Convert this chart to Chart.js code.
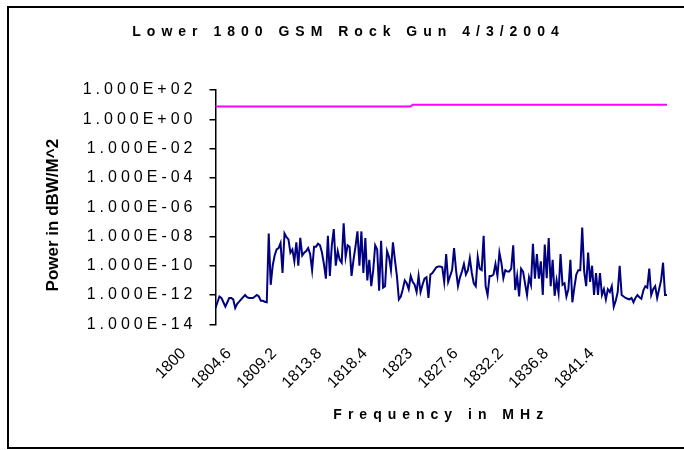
<!DOCTYPE html>
<html>
<head>
<meta charset="utf-8">
<script src="https://cdn.jsdelivr.net/npm/chart.js@4.4.1/dist/chart.umd.min.js"></script>
<style>
  html, body { margin: 0; padding: 0; background: #fff; }
  #wrap { width: 684px; height: 450px; }
</style>
</head>
<body>
<div id="wrap"><canvas id="chart"></canvas></div>
<script>
// frequency categories, 0.2 MHz steps
var frequencies = []
for (var i = 0; i < 230; i++) frequencies.push(String(+(1800 + i * 0.2).toFixed(1)))

var xTickLabels = ['1800', '1804.6', '1809.2', '1813.8', '1818.4', '1823', '1827.6', '1832.2', '1836.8', '1841.4']
var yTicks = [1e2, 1e0, 1e-2, 1e-4, 1e-6, 1e-8, 1e-10, 1e-12, 1e-14]

// measured power (blue)
var measured = [
  1.3e-13, 3.2e-13, 7.9e-13, 6.3e-13, 3.2e-13, 1.6e-13, 3.2e-13, 6.3e-13, 6.3e-13, 5.0e-13,
  1.3e-13, 2.5e-13, 3.5e-13, 5.0e-13, 7.1e-13, 1.0e-12, 7.1e-13, 6.3e-13, 6.3e-13, 6.3e-13,
  7.9e-13, 1.0e-12, 7.9e-13, 4.0e-13, 4.0e-13, 3.5e-13, 3.2e-13, 1.6e-8, 5.0e-12, 1.0e-10,
  5.0e-10, 1.3e-9, 1.6e-9, 3.5e-9, 3.2e-11, 1.6e-8, 8.9e-9, 6.3e-9, 7.9e-10, 1.3e-9,
  2.0e-10, 4.0e-9, 1.0e-10, 7.9e-9, 5.0e-10, 7.9e-10, 1.0e-9, 1.6e-9, 6.3e-10, 5.0e-11,
  2.0e-9, 2.0e-9, 3.2e-9, 2.5e-9, 7.9e-10, 1.3e-10, 1.3e-11, 1.1e-8, 2.0e-11, 2.5e-9,
  3.2e-8, 1.0e-10, 1.0e-9, 2.5e-10, 1.6e-10, 7.9e-8, 4.0e-10, 2.5e-9, 2.0e-9, 2.0e-11,
  2.5e-10, 2.0e-9, 2.2e-8, 1.0e-10, 2.2e-8, 3.2e-11, 7.9e-9, 1.0e-11, 2.5e-10, 4.0e-12,
  5.0e-11, 2.5e-9, 1.3e-9, 2.0e-12, 5.0e-9, 3.2e-12, 4.0e-12, 1.0e-9, 4.0e-10, 5.0e-11,
  4.0e-9, 2.5e-10, 2.0e-11, 5.0e-13, 7.9e-13, 2.5e-12, 1.0e-11, 6.3e-12, 2.5e-12, 2.0e-11,
  7.9e-12, 5.0e-12, 1.6e-12, 2.0e-11, 1.6e-12, 5.0e-12, 1.3e-11, 1.6e-11, 6.3e-13, 2.5e-11,
  3.2e-11, 5.0e-11, 7.9e-11, 8.9e-11, 8.9e-11, 7.9e-11, 7.9e-12, 6.3e-10, 7.9e-12, 2.0e-11,
  5.0e-11, 1.6e-9, 5.0e-11, 4.0e-12, 1.6e-11, 4.0e-11, 1.3e-10, 2.5e-11, 5.0e-11, 3.2e-10,
  3.2e-11, 6.3e-12, 4.0e-12, 4.0e-10, 6.3e-11, 5.0e-11, 1.1e-8, 4.0e-12, 1.0e-12, 2.0e-11,
  2.0e-11, 2.5e-11, 1.3e-10, 2.0e-11, 7.9e-10, 1.6e-10, 1.4e-11, 5.0e-11, 4.0e-11, 4.0e-11,
  6.3e-11, 2.5e-9, 2.2e-12, 2.0e-11, 7.9e-13, 6.3e-11, 4.0e-11, 6.3e-12, 1.0e-12, 1.6e-11,
  5.0e-12, 3.2e-9, 1.3e-11, 6.3e-10, 1.3e-11, 2.0e-10, 1.0e-12, 2.8e-9, 1.4e-11, 7.9e-9,
  4.0e-12, 2.5e-10, 8.9e-13, 1.0e-11, 1.3e-12, 6.3e-10, 5.0e-12, 6.3e-12, 7.9e-13, 2.5e-12,
  2.5e-10, 3.2e-13, 3.2e-12, 2.5e-11, 5.0e-11, 5.0e-11, 4.0e-8, 4.0e-11, 4.0e-12, 7.9e-10,
  7.9e-12, 1.0e-10, 1.0e-12, 3.2e-11, 1.0e-12, 3.2e-11, 1.0e-12, 2.5e-12, 5.0e-13, 2.5e-12,
  1.6e-12, 4.0e-12, 1.6e-13, 4.0e-13, 1.6e-12, 1.0e-10, 1.0e-12, 7.9e-13, 6.3e-13, 5.6e-13,
  5.0e-13, 6.3e-13, 3.2e-13, 6.3e-13, 1.0e-12, 7.1e-13, 5.6e-13, 2.0e-12, 4.0e-12, 3.2e-12,
  6.3e-11, 1.0e-12, 2.5e-12, 4.0e-12, 6.3e-13, 2.5e-12, 1.0e-11, 1.6e-10, 1.0e-12, 1.0e-12
]

// limit line (magenta), a step at 1820 MHz
var limitFreq = ['1800', '1819.8', '1820', '1845.8']
var limitValues = [7.4, 7.4, 10, 10]

var font = 'Liberation Sans, Arial, sans-serif'

// canvas letterSpacing per drawn element
function spaced(obj, method, px, dx, dy) {
  var orig = obj[method]
  obj[method] = function() {
    var ctx = this.ctx
    ctx.save()
    ctx.letterSpacing = px
    ctx.translate(dx || 0, dy || 0)
    orig.apply(this, arguments)
    ctx.restore()
  }
}

var spacing = {
  id: 'spacing',
  afterLayout: function(chart) {
    if (chart.$spaced) return
    chart.$spaced = true
    spaced(chart.scales.y, 'drawLabels', '4px')
    spaced(chart.scales.y, 'drawTitle', '0px', 0, 8)
    spaced(chart.scales.x, 'drawTitle', '6px')
    spaced(chart.titleBlock, 'draw', '6px', 15, 0)
  }
}

var frame = {
  id: 'frame',
  beforeDraw: function(chart) {
    var ctx = chart.ctx
    ctx.save()
    ctx.fillStyle = '#fff'
    ctx.fillRect(0, 0, chart.width, chart.height)
    ctx.strokeStyle = '#000'
    ctx.lineWidth = 2
    ctx.strokeRect(8, 7, 700, 441)
    ctx.restore()
  }
}

var sciLabel = function(v) {
  return Number(v).toExponential(3).toUpperCase().replace(/E([+-])(\d)$/, 'E$10$2')
}

new Chart(document.getElementById('chart'), {
  type: 'line',
  data: {
    labels: frequencies,
    datasets: [{
      label: 'Measured',
      data: measured,
      borderColor: '#000080',
      borderWidth: 2,
      pointRadius: 0,
      tension: 0
    }, {
      label: 'Limit',
      data: limitFreq.map(function(f, i) { return {x: f, y: limitValues[i]} }),
      borderColor: '#ff00ff',
      borderWidth: 2,
      pointRadius: 0,
      tension: 0
    }]
  },
  plugins: [frame, spacing],
  options: {
    responsive: true,
    maintainAspectRatio: false,
    animation: false,
    layout: { padding: { left: 0, right: 17, top: 0, bottom: 0 } },
    plugins: {
      legend: { display: false },
      tooltip: { enabled: false },
      title: {
        display: true,
        text: 'Lower 1800 GSM Rock Gun 4/3/2004',
        color: '#000',
        font: { family: font, size: 14, weight: 'bold' },
        padding: { top: 24, bottom: 49.2 }
      }
    },
    scales: {
      x: {
        type: 'category',
        grid: { display: false, drawTicks: false },
        border: { display: false },
        ticks: {
          autoSkip: false,
          maxRotation: 45,
          minRotation: 45,
          padding: 20,
          labelOffset: -32,
          color: '#000',
          font: { family: font, size: 16 },
          callback: function(val) {
            var lab = this.getLabelForValue(val)
            return xTickLabels.indexOf(lab) >= 0 ? lab : ''
          }
        },
        title: {
          display: true,
          text: 'Frequency in MHz',
          color: '#000',
          font: { family: font, size: 14, weight: 'bold' },
          padding: { top: 0, bottom: 26.6 }
        },
        afterFit: function(scale) {
          scale.height = 125.7
          scale.paddingLeft = 0
          scale.paddingRight = 0
        }
      },
      y: {
        type: 'logarithmic',
        min: 1e-14,
        max: 1e2,
        grid: { display: true, drawOnChartArea: false, drawTicks: true, tickLength: 6, color: '#000', lineWidth: 1.5 },
        border: { display: true, color: '#000', width: 1.5 },
        afterBuildTicks: function(scale) {
          scale.ticks = yTicks.map(function(v) { return {value: v} })
        },
        ticks: {
          padding: 13,
          color: '#000',
          font: { family: font, size: 16 },
          callback: function(v) { return sciLabel(v) }
        },
        title: {
          display: true,
          text: 'Power in dBW/M^2',
          color: '#000',
          font: { family: font, size: 17, weight: 'bold' },
          padding: { top: 43, bottom: 0 }
        },
        afterFit: function(scale) { scale.width = 215.5 }
      }
    }
  }
})
</script>
</body>
</html>
